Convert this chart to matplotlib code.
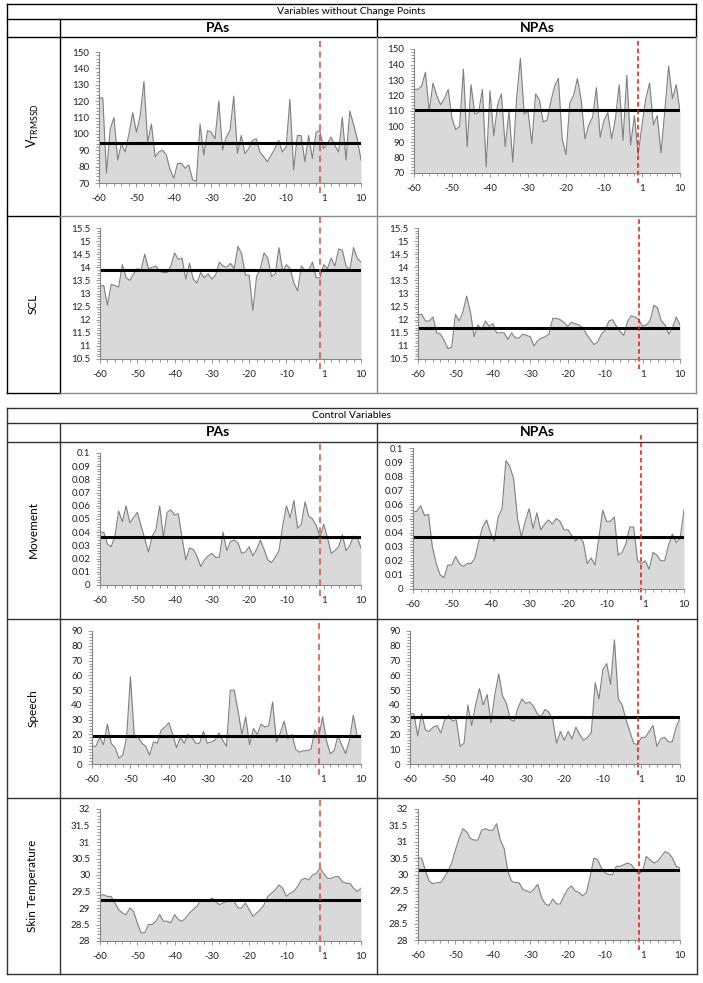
import numpy as np
import matplotlib
matplotlib.use("Agg")
import matplotlib.pyplot as plt
from matplotlib.lines import Line2D
from matplotlib.ticker import FixedLocator, MultipleLocator, AutoMinorLocator, FuncFormatter

plt.rcParams['font.family'] = ['Lato', 'DejaVu Sans']
plt.rcParams['mathtext.fontset'] = 'custom'
plt.rcParams['mathtext.rm'] = 'Lato'

W, H = 703, 983          # figure size in pixels

# categories: minutes -60 .. 10 (71 points), labels every 10
x_tick_pos = [0, 10, 20, 30, 40, 50, 60, 70]
x_tick_labels = ['-60', '-50', '-40', '-30', '-20', '-10', '1', '10']
onset = 59               # red dashed marker

# ---- Variables without change points ----
vtrmssd_pas = [122, 122, 76, 103, 110, 84, 94, 89, 100, 113,
               101, 111, 132, 95, 106, 86, 89, 90, 87, 78,
               73, 82, 82, 79, 81, 72, 71, 106, 87, 102,
               101, 97, 120, 90, 98, 102, 123, 88, 99, 88,
               91, 96, 97, 89, 86, 83, 87, 91, 96, 89,
               92, 121, 78, 99, 99, 83, 99, 85, 101, 102,
               91, 94, 98, 93, 89, 110, 84, 114, 106, 97, 84]
vtrmssd_npas = [124, 124, 126, 135, 110, 128, 120, 114, 118, 124,
                105, 98, 100, 137, 87, 127, 108, 109, 124, 74,
                123, 94, 114, 121, 87, 110, 77, 118, 144, 108,
                110, 89, 121, 117, 103, 104, 116, 126, 131, 92,
                82, 115, 120, 131, 117, 92, 101, 106, 125, 93,
                104, 109, 92, 105, 127, 91, 133, 88, 107, 82,
                101, 118, 128, 101, 107, 83, 110, 139, 118, 127, 110]
scl_pas = [13.3, 13.3, 12.55, 13.35, 13.3, 13.25, 14.1, 13.6, 13.5, 13.75,
           13.95, 13.9, 14.5, 13.95, 14.0, 14.05, 13.85, 13.8, 13.8, 14.05,
           14.55, 14.3, 14.35, 13.55, 14.15, 13.55, 13.4, 13.8, 13.6, 13.75,
           13.55, 13.7, 14.2, 14.05, 14.0, 14.15, 13.95, 14.8, 14.5, 13.7,
           13.7, 12.35, 13.65, 13.95, 14.55, 14.35, 13.65, 13.75, 14.75, 13.85,
           14.1, 13.95, 13.4, 13.1, 14.05, 13.9, 13.9, 14.2, 13.6, 13.6,
           14.1, 13.95, 14.35, 14.05, 14.7, 14.65, 14.05, 13.9, 14.75, 14.35, 14.2]
scl_npas = [12.2, 12.2, 11.95, 11.95, 12.1, 11.5, 11.45, 11.2, 10.9, 10.95,
            12.2, 11.95, 12.3, 12.9, 12.3, 11.35, 11.8, 11.6, 11.95, 11.75,
            11.85, 11.5, 11.5, 11.5, 11.25, 11.5, 11.3, 11.3, 11.45, 11.4,
            11.35, 11.0, 11.2, 11.3, 11.35, 11.45, 12.05, 12.05, 12.0, 11.9,
            11.75, 11.9, 11.85, 11.8, 11.7, 11.45, 11.25, 11.05, 11.15, 11.45,
            11.6, 11.95, 12.0, 11.75, 11.55, 11.4, 11.95, 12.15, 12.1, 12.0,
            11.75, 11.8, 11.95, 12.55, 12.45, 11.95, 11.8, 11.45, 11.7, 12.1, 11.8]

# ---- Control variables ----
movement_pas = [0.040, 0.040, 0.031, 0.029, 0.037, 0.056, 0.048, 0.060, 0.047, 0.051,
                0.055, 0.045, 0.035, 0.025, 0.037, 0.042, 0.060, 0.036, 0.055, 0.057,
                0.053, 0.054, 0.036, 0.019, 0.028, 0.027, 0.022, 0.014, 0.019, 0.022,
                0.024, 0.021, 0.021, 0.040, 0.026, 0.033, 0.034, 0.032, 0.024, 0.025,
                0.029, 0.022, 0.027, 0.034, 0.027, 0.019, 0.017, 0.021, 0.026, 0.045,
                0.060, 0.051, 0.064, 0.043, 0.046, 0.063, 0.052, 0.050, 0.045, 0.036,
                0.046, 0.036, 0.024, 0.026, 0.029, 0.038, 0.026, 0.030, 0.037, 0.036, 0.028]
movement_npas = [0.055, 0.055, 0.059, 0.052, 0.053, 0.030, 0.018, 0.010, 0.008, 0.017,
                 0.017, 0.023, 0.018, 0.016, 0.018, 0.018, 0.022, 0.034, 0.044, 0.049,
                 0.040, 0.034, 0.051, 0.057, 0.091, 0.087, 0.078, 0.050, 0.037, 0.048,
                 0.057, 0.043, 0.054, 0.042, 0.046, 0.049, 0.046, 0.050, 0.048, 0.042,
                 0.042, 0.038, 0.034, 0.037, 0.033, 0.018, 0.022, 0.017, 0.036, 0.056,
                 0.048, 0.048, 0.051, 0.024, 0.026, 0.032, 0.044, 0.044, 0.020, 0.018,
                 0.020, 0.014, 0.026, 0.024, 0.020, 0.020, 0.031, 0.039, 0.033, 0.036, 0.056]
speech_pas = [12, 12, 18, 13, 27, 14, 11, 4, 6, 18,
              59, 19, 18, 14, 12, 6, 15, 14, 23, 25,
              28, 20, 11, 18, 14, 20, 18, 14, 14, 22,
              14, 15, 16, 21, 16, 12, 50, 50, 36, 20,
              32, 13, 24, 20, 27, 25, 26, 42, 15, 21,
              29, 17, 20, 10, 8, 9, 9, 10, 23, 18,
              32, 16, 7, 9, 19, 13, 7, 16, 33, 19, 19]
speech_npas = [34, 34, 19, 34, 23, 22, 25, 26, 21, 30,
               33, 29, 30, 12, 14, 40, 26, 40, 51, 40,
               47, 28, 47, 61, 46, 41, 30, 29, 38, 44,
               41, 42, 39, 34, 32, 37, 35, 30, 14, 22,
               16, 22, 17, 25, 20, 16, 18, 21, 55, 44,
               64, 68, 54, 84, 44, 40, 30, 22, 14, 13,
               18, 18, 22, 26, 12, 17, 18, 15, 15, 25, 31]
skin_pas = [29.4, 29.4, 29.35, 29.35, 29.15, 28.95, 28.85, 28.8, 29.0, 28.9,
            28.55, 28.25, 28.25, 28.5, 28.5, 28.6, 28.8, 28.6, 28.6, 28.55,
            28.8, 28.65, 28.6, 28.7, 28.85, 28.95, 29.05, 29.25, 29.25, 29.2,
            29.3, 29.2, 29.1, 29.15, 29.2, 29.25, 29.2, 29.0, 29.0, 29.15,
            28.95, 28.75, 28.85, 28.95, 29.1, 29.35, 29.45, 29.55, 29.7, 29.6,
            29.35, 29.45, 29.5, 29.65, 29.85, 29.9, 29.85, 30.0, 30.05, 30.2,
            30.05, 29.9, 29.9, 29.95, 29.95, 29.8, 29.75, 29.75, 29.6, 29.5, 29.6]
skin_npas = [30.5, 30.5, 30.1, 29.8, 29.72, 29.75, 29.75, 29.9, 30.1, 30.35,
             30.75, 31.1, 31.4, 31.3, 31.1, 31.05, 31.05, 31.35, 31.4, 31.35,
             31.35, 31.55, 31.05, 30.8, 30.1, 29.8, 29.75, 29.75, 29.55, 29.5,
             29.45, 29.55, 29.7, 29.3, 29.1, 29.05, 29.25, 29.1, 29.1, 29.35,
             29.55, 29.65, 29.5, 29.45, 29.35, 29.45, 29.95, 30.5, 30.45, 30.2,
             30.05, 30.0, 30.0, 30.25, 30.25, 30.3, 30.35, 30.3, 30.15, 30.0,
             30.1, 30.55, 30.45, 30.35, 30.4, 30.55, 30.7, 30.65, 30.5, 30.25, 30.2]

# mean levels (black lines)
means = {'v_pas': 94.5, 'v_npas': 110.5, 'scl_pas': 13.9, 'scl_npas': 11.7,
         'mov_pas': 0.036, 'mov_npas': 0.037, 'sp_pas': 19, 'sp_npas': 31.5,
         'sk_pas': 29.25, 'sk_npas': 30.15}

fig = plt.figure(figsize=(W / 100, H / 100), dpi=100)


def line(x0, y0, x1, y1, color='black', lw=1.0):
    fig.add_artist(Line2D([x0 / W, x1 / W], [1 - y0 / H, 1 - y1 / H],
                          color=color, lw=lw, transform=fig.transFigure))


def text(x, y, s, **kw):
    fig.text(x / W, 1 - y / H, s, ha='center', va='center', **kw)


def panel(box, values, mean, ylim, ystep, pas=True):
    x0, x1, y0, y1 = box
    ax = fig.add_axes([x0 / W, 1 - y1 / H, (x1 - x0) / W, (y1 - y0) / H])
    xs = np.arange(len(values))
    ax.fill_between(xs, ylim[0], values, color='#d9d9d9', lw=0)
    ax.plot(xs, values, color='#808080', lw=0.8)
    ax.plot([xs[0], xs[-1]], [mean, mean], color='black', lw=2.2)
    if pas:
        ax.axvline(onset, ymin=-0.08, ymax=1.09, clip_on=False, color='#d9534f',
                   lw=1.5, alpha=0.8, ls=(0, (3, 2)))
    else:
        ax.axvline(onset, ymin=-0.08, ymax=1.09, clip_on=False, color='#ee1111',
                   lw=1.1, ls=(0, (3, 2)))
    ax.set_xlim(0, 70)
    ax.set_ylim(*ylim)
    ax.xaxis.set_major_locator(FixedLocator(x_tick_pos))
    ax.set_xticklabels(x_tick_labels)
    ax.xaxis.set_minor_locator(MultipleLocator(2))
    ax.yaxis.set_major_locator(MultipleLocator(ystep))
    ax.yaxis.set_minor_locator(AutoMinorLocator(5))
    ax.yaxis.set_major_formatter(FuncFormatter(lambda v, p: '%g' % round(v, 3)))
    for s in ('top', 'right'):
        ax.spines[s].set_visible(False)
    for s in ('left', 'bottom'):
        ax.spines[s].set_color('#868686')
        ax.spines[s].set_linewidth(0.8)
    ax.tick_params(which='both', direction='out', colors='#868686',
                   labelcolor='#222222', labelsize=7, width=0.6)
    ax.tick_params(which='major', length=3)
    ax.tick_params(which='minor', length=2)
    ax.tick_params(axis='x', pad=5)
    ax.tick_params(axis='y', pad=4)
    ax.set_facecolor('none')
    return ax


# ---------- top table ----------
gray = '#8c8c8c'
line(7, 4, 696, 4); line(7, 19, 696, 19); line(7, 37, 696, 37)
line(7, 4, 7, 393); line(60, 19, 60, 393); line(696, 4, 696, 37)
line(377, 19, 377, 37)
line(7, 216, 60, 216); line(7, 393, 60, 393)
line(377, 37, 377, 393, gray); line(696, 37, 696, 393, gray)
line(60, 216, 696, 216, gray); line(60, 393, 696, 393, gray)

text(351, 12, 'Variables without Change Points', fontsize=7.5)
text(218, 28, 'PAs', fontsize=10, fontweight='bold')
text(537, 28, 'NPAs', fontsize=10, fontweight='bold')
text(33, 126, r'$\mathrm{V}_{\mathrm{TRMSSD}}$', fontsize=9, rotation=90)
text(33, 304, 'SCL', fontsize=8.5, rotation=90)

panel((99, 361, 52, 183), vtrmssd_pas, means['v_pas'], (70, 150), 10)
panel((414, 680, 49, 173), vtrmssd_npas, means['v_npas'], (70, 150), 10, pas=False)
panel((100, 361, 228, 359), scl_pas, means['scl_pas'], (10.5, 15.5), 0.5)
panel((418, 680, 228, 359), scl_npas, means['scl_npas'], (10.5, 15.5), 0.5, pas=False)

# ---------- bottom table ----------
dark = '#333333'
line(7, 408, 697, 408, dark); line(7, 423, 697, 423, dark); line(7, 442, 697, 442, dark)
line(7, 619, 697, 619, dark); line(7, 798, 697, 798, dark); line(7, 974, 697, 974, dark)
line(7, 408, 7, 974, dark); line(60, 423, 60, 974, dark)
line(377, 423, 377, 974, dark); line(697, 408, 697, 974, dark)

text(351, 416, 'Control Variables', fontsize=7.5)
text(218, 432, 'PAs', fontsize=10, fontweight='bold')
text(537, 432, 'NPAs', fontsize=10, fontweight='bold')
text(33, 530, 'Movement', fontsize=8.5, rotation=90)
text(33, 708, 'Speech', fontsize=8.5, rotation=90)
text(33, 886, 'Skin Temperature', fontsize=8.5, rotation=90)

panel((100, 361, 453, 585), movement_pas, means['mov_pas'], (0, 0.1), 0.01)
panel((413, 684, 448, 589), movement_npas, means['mov_npas'], (0, 0.1), 0.01, pas=False)
panel((92, 361, 631, 764), speech_pas, means['sp_pas'], (0, 90), 10)
panel((410, 680, 631, 764), speech_npas, means['sp_npas'], (0, 90), 10, pas=False)
panel((100, 361, 809, 941), skin_pas, means['sk_pas'], (28, 32), 0.5)
panel((418, 680, 809, 940), skin_npas, means['sk_npas'], (28, 32), 0.5, pas=False)

fig.savefig('out.png', dpi=100)
